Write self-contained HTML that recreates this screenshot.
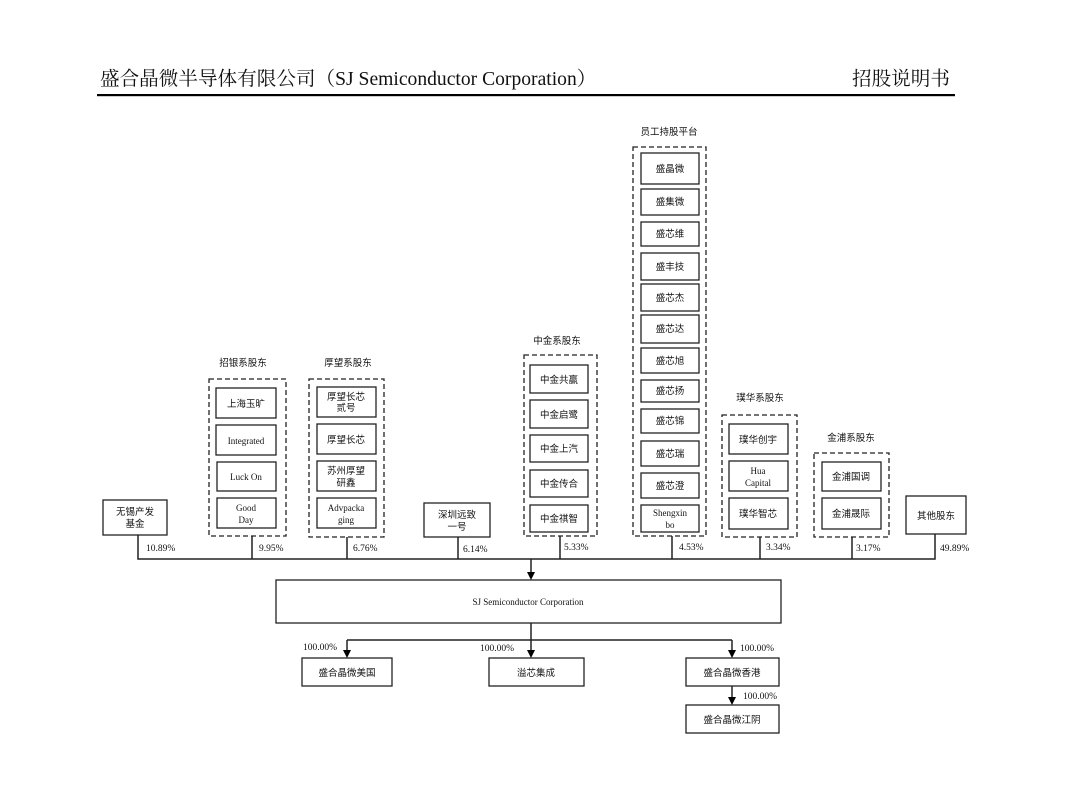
<!DOCTYPE html>
<html><head><meta charset="utf-8"><style>
html,body{margin:0;padding:0;background:#fff;}
svg{display:block;}
text{font-family:"Liberation Serif","Noto Sans CJK SC",serif;fill:#111;}
.c{font-family:"Liberation Serif","Noto Sans CJK SC",sans-serif;font-size:9.5px;}
</style></head><body>
<svg width="1080" height="785" viewBox="0 0 1080 785" xmlns="http://www.w3.org/2000/svg">
<text x="100" y="85" style="font-family:'Liberation Serif','Noto Serif CJK SC',serif;font-size:19.6px">盛合晶微半导体有限公司（SJ Semiconductor Corporation）</text>
<text x="852" y="85" style="font-family:'Liberation Serif','Noto Serif CJK SC',serif;font-size:19.6px">招股说明书</text>
<rect x="97" y="94" width="858" height="2.2" fill="#000"/>
<g fill="none" stroke="#222" stroke-width="1.3" stroke-dasharray="5,3">
<rect x="633" y="147" width="73" height="389"/>
<rect x="209" y="379" width="77" height="157"/>
<rect x="309" y="379" width="75" height="158"/>
<rect x="524" y="355" width="73" height="181"/>
<rect x="722" y="415" width="75" height="122"/>
<rect x="814" y="453" width="75" height="84"/>
</g>
<g fill="#fff" stroke="#222" stroke-width="1.3">
<rect x="641" y="153" width="58" height="31"/><rect x="641" y="189" width="58" height="26"/>
<rect x="641" y="222" width="58" height="24"/><rect x="641" y="253" width="58" height="27"/>
<rect x="641" y="284" width="58" height="27"/><rect x="641" y="315" width="58" height="28"/>
<rect x="641" y="348" width="58" height="25"/><rect x="641" y="380" width="58" height="22"/>
<rect x="641" y="409" width="58" height="24"/><rect x="641" y="441" width="58" height="25"/>
<rect x="641" y="473" width="58" height="25"/><rect x="641" y="505" width="58" height="27"/>
<rect x="216" y="388" width="60" height="30"/><rect x="216" y="425" width="60" height="30"/>
<rect x="217" y="462" width="59" height="29"/><rect x="217" y="498" width="59" height="30"/>
<rect x="317" y="387" width="59" height="30"/><rect x="317" y="424" width="59" height="30"/>
<rect x="317" y="461" width="59" height="30"/><rect x="317" y="498" width="59" height="30"/>
<rect x="530" y="365" width="58" height="28"/><rect x="530" y="400" width="58" height="28"/>
<rect x="530" y="435" width="58" height="27"/><rect x="530" y="470" width="58" height="27"/>
<rect x="530" y="505" width="58" height="27"/>
<rect x="729" y="424" width="59" height="30"/><rect x="729" y="461" width="59" height="30"/><rect x="729" y="498" width="59" height="31"/>
<rect x="822" y="462" width="59" height="29"/><rect x="822" y="498" width="59" height="31"/>
<rect x="103" y="500" width="64" height="35"/>
<rect x="424" y="503" width="66" height="34"/>
<rect x="906" y="496" width="60" height="38"/>
<rect x="276" y="580" width="505" height="43"/>
<rect x="302" y="658" width="90" height="28"/>
<rect x="489" y="658" width="95" height="28"/>
<rect x="686" y="658" width="93" height="28"/>
<rect x="686" y="705" width="93" height="28"/>
</g>
<g fill="none" stroke="#222" stroke-width="1.5">
<path d="M138 535V559H935V534M252 536V559M347 537V559M458 537V559M560 536V559M672 536V559M760 537V559M852 537V559"/>
<path d="M531 559V574"/>
<path d="M531 623V652"/>
<path d="M347 640H732"/>
<path d="M347 640V652"/>
<path d="M732 640V652"/>
<path d="M732 686V699"/>
</g>
<g fill="#000">
<path d="M527 572L535 572L531 580z"/>
<path d="M527 650L535 650L531 658z"/>
<path d="M343 650L351 650L347 658z"/>
<path d="M728 650L736 650L732 658z"/>
<path d="M728 697L736 697L732 705z"/>
</g>
<g class="c" text-anchor="middle">
<text x="669" y="135">员工持股平台</text>
<text x="243" y="366">招银系股东</text>
<text x="348" y="366">厚望系股东</text>
<text x="557" y="344">中金系股东</text>
<text x="760" y="401">璞华系股东</text>
<text x="851" y="441">金浦系股东</text>
<text x="670" y="172">盛晶微</text><text x="670" y="205">盛集微</text><text x="670" y="237">盛芯维</text>
<text x="670" y="270">盛丰技</text><text x="670" y="301">盛芯杰</text><text x="670" y="332">盛芯达</text>
<text x="670" y="364">盛芯旭</text><text x="670" y="394">盛芯扬</text><text x="670" y="424">盛芯锦</text>
<text x="670" y="457">盛芯瑞</text><text x="670" y="489">盛芯澄</text>
<text x="670" y="516" font-size="9">Shengxin</text><text x="670" y="528" font-size="9">bo</text>
<text x="246" y="407">上海玉旷</text><text x="246" y="444" font-size="9">Integrated</text>
<text x="246" y="480" font-size="9">Luck On</text>
<text x="246" y="511" font-size="9">Good</text><text x="246" y="523" font-size="9">Day</text>
<text x="346" y="400">厚望长芯</text><text x="346" y="411">贰号</text>
<text x="346" y="443">厚望长芯</text>
<text x="346" y="474">苏州厚望</text><text x="346" y="486">研鑫</text>
<text x="346" y="511" font-size="9">Advpacka</text><text x="346" y="523" font-size="9">ging</text>
<text x="559" y="383">中金共赢</text><text x="559" y="418">中金启鹭</text><text x="559" y="452">中金上汽</text>
<text x="559" y="487">中金传合</text><text x="559" y="522">中金祺智</text>
<text x="758" y="443">璞华创宇</text>
<text x="758" y="474" font-size="9">Hua</text><text x="758" y="486" font-size="9">Capital</text>
<text x="758" y="517">璞华智芯</text>
<text x="851" y="480">金浦国调</text><text x="851" y="517">金浦晟际</text>
<text x="135" y="515">无锡产发</text><text x="135" y="527">基金</text>
<text x="457" y="518">深圳远致</text><text x="457" y="530">一号</text>
<text x="936" y="519">其他股东</text>
<text x="528" y="605" font-size="9">SJ Semiconductor Corporation</text>
<text x="347" y="676">盛合晶微美国</text>
<text x="536" y="676">溢芯集成</text>
<text x="732" y="676">盛合晶微香港</text>
<text x="732" y="723">盛合晶微江阴</text>
</g>
<g class="c" font-size="9">
<text x="146" y="551">10.89%</text><text x="259" y="551">9.95%</text>
<text x="353" y="551">6.76%</text><text x="463" y="552">6.14%</text>
<text x="564" y="550">5.33%</text><text x="679" y="550">4.53%</text>
<text x="766" y="550">3.34%</text><text x="856" y="551">3.17%</text>
<text x="940" y="551">49.89%</text>
<text x="303" y="650">100.00%</text><text x="480" y="651">100.00%</text>
<text x="740" y="651">100.00%</text><text x="743" y="699">100.00%</text>
</g>
</svg>
</body></html>
